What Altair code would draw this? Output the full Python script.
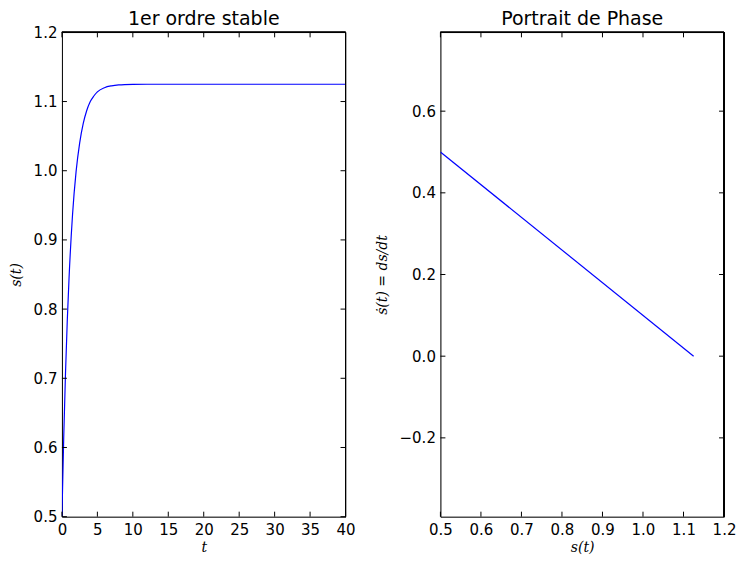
import altair as alt
import pandas as pd

# Left panel: step response of a stable first-order system
t_vals = [0, 0.25, 0.5, 0.75, 1, 1.5, 2, 2.5, 3, 3.5, 4, 4.5, 5, 6, 7, 8, 10, 12, 20, 40]
s_vals = [0.5, 0.613, 0.706, 0.782, 0.844, 0.937, 0.999, 1.040, 1.068, 1.087,
          1.100, 1.108, 1.114, 1.120, 1.1227, 1.124, 1.1248, 1.125, 1.125, 1.125]

# Right panel: phase portrait
phase_s = [0.5, 1.125]
phase_ds = [0.5, 0.0]

left_xticks = [0, 5, 10, 15, 20, 25, 30, 35, 40]
left_yticks = [0.5, 0.6, 0.7, 0.8, 0.9, 1.0, 1.1, 1.2]
right_xticks = [0.5, 0.6, 0.7, 0.8, 0.9, 1.0, 1.1, 1.2]
right_yticks = [-0.2, 0.0, 0.2, 0.4, 0.6]

W, H = 284, 485
TL = 5
BLUE = "#0000ff"


def panel(df, xf, yf, xdom, ydom, xticks, yticks, xfmt, yfmt, title, xtitle, ytitle, ytp):
    xs = alt.Scale(domain=xdom, nice=False, zero=False)
    ys = alt.Scale(domain=ydom, nice=False, zero=False)
    common = dict(grid=False, domain=True, domainColor="black", domainWidth=1,
                  tickSize=0, labelFontSize=15, labelFont="DejaVu Sans",
                  labelColor="black", titleFont="DejaVu Serif", titleFontStyle="italic",
                  titleFontWeight="normal", titleFontSize=14, titleColor="black",
                  labelFlush=False, labelOverlap=False)
    xax = alt.Axis(values=xticks, format=xfmt, title=xtitle, labelPadding=6, titlePadding=3, **common)
    yax = alt.Axis(values=yticks, format=yfmt, title=ytitle, labelPadding=5, titlePadding=ytp, **common)
    line = alt.Chart(df).mark_line(color=BLUE, strokeWidth=1.2, interpolate="monotone", clip=True).encode(
        x=alt.X(f"{xf}:Q", scale=xs, axis=xax),
        y=alt.Y(f"{yf}:Q", scale=ys, axis=yax),
    )
    xt = pd.DataFrame({"v": xticks})
    yt = pd.DataFrame({"v": yticks})
    tick_style = dict(color="black", strokeWidth=1)
    bx = alt.Chart(xt).mark_rule(**tick_style).encode(
        x=alt.X("v:Q", scale=xs, axis=xax), y=alt.value(H), y2=alt.value(H - TL))
    tx = alt.Chart(xt).mark_rule(**tick_style).encode(
        x=alt.X("v:Q", scale=xs, axis=xax), y=alt.value(0), y2=alt.value(TL))
    ly = alt.Chart(yt).mark_rule(**tick_style).encode(
        y=alt.Y("v:Q", scale=ys, axis=yax), x=alt.value(0), x2=alt.value(TL))
    ry = alt.Chart(yt).mark_rule(**tick_style).encode(
        y=alt.Y("v:Q", scale=ys, axis=yax), x=alt.value(W), x2=alt.value(W - TL))
    top_edge = alt.Chart(xt).mark_rule(color="black", strokeWidth=1).encode(
        x=alt.value(0), x2=alt.value(W), y=alt.value(0))
    right_edge = alt.Chart(xt).mark_rule(color="black", strokeWidth=1).encode(
        x=alt.value(W), y=alt.value(0), y2=alt.value(H))
    ttl = alt.Chart(pd.DataFrame({"title": [title]})).mark_text(
        fontSize=19, font="DejaVu Sans", color="black", baseline="middle", align="center"
    ).encode(x=alt.value(W / 2), y=alt.value(-13), text="title:N")
    return alt.layer(line, bx, tx, ly, ry, top_edge, right_edge, ttl).properties(width=W, height=H)


left_df = pd.DataFrame({"t": t_vals, "s": s_vals})
right_df = pd.DataFrame({"s": phase_s, "ds": phase_ds})

left = panel(left_df, "t", "s", [0, 40], [0.5, 1.2], left_xticks, left_yticks, "d", ".1f",
             "1er ordre stable", "t", "s(t)", 10)
right = panel(right_df, "s", "ds", [0.5, 1.2], [-0.393, 0.793], right_xticks, right_yticks, ".1f", ".1f",
              "Portrait de Phase", "s(t)", "ṡ(t) = ds/dt", 10)

chart = alt.hconcat(left, right, spacing=95, bounds="flush").properties(
    padding={"left": 0, "top": 1, "right": 0, "bottom": 0}
).configure_view(stroke=None).configure(background="white")

chart.save("out.html", embed_options={"renderer": "svg", "actions": False})
